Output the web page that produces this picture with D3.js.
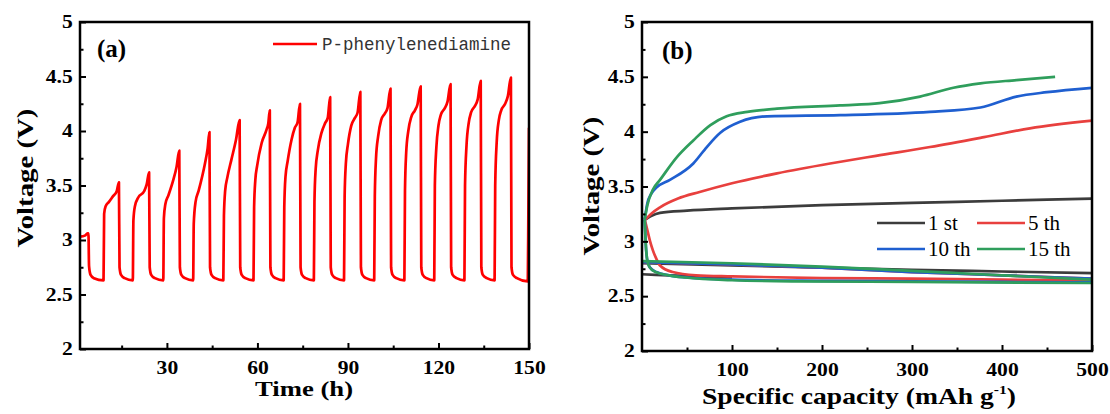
<!DOCTYPE html>
<html>
<head>
<meta charset="utf-8">
<script src="https://cdn.jsdelivr.net/npm/d3@7"></script>
<style>
  body { margin: 0; background: #fff; }
  svg text { font-family: "Liberation Serif", "Times New Roman", serif; }
</style>
</head>
<body>
<svg width="1110" height="414"></svg>
<script>
// ---- data: panel (a), voltage vs time, [time h, voltage V]
const cycleTrace = [
  [1.2, 3.03], [2.8, 3.04], [3.7, 3.06], [4.0, 3.06], [4.2, 2.76], [4.7, 2.68], [5.8, 2.65], [9.0, 2.63],
  [9.2, 3.24], [9.7, 3.31], [10.8, 3.35], [12.1, 3.40], [13.4, 3.45], [14.1, 3.53],
  [14.3, 2.75], [14.8, 2.68], [16.0, 2.65], [18.7, 2.63],
  [18.9, 3.18], [19.4, 3.31], [20.5, 3.39], [22.5, 3.45], [23.3, 3.51], [24.1, 3.62],
  [24.3, 2.75], [24.8, 2.68], [26.0, 2.65], [28.8, 2.63],
  [29.0, 3.20], [29.5, 3.33], [30.5, 3.41], [32.1, 3.55], [33.2, 3.67], [34.1, 3.82],
  [34.3, 2.75], [34.8, 2.68], [36.0, 2.65], [38.7, 2.63],
  [38.9, 3.15], [39.5, 3.35], [40.5, 3.45], [42.6, 3.70], [43.5, 3.84], [44.1, 3.99],
  [44.3, 2.75], [44.8, 2.68], [46.0, 2.65], [48.7, 2.63],
  [48.9, 3.22], [49.3, 3.45], [50.0, 3.57], [51.4, 3.74], [52.9, 3.92], [54.1, 4.10],
  [54.3, 2.75], [54.8, 2.68], [56.0, 2.65], [58.7, 2.63],
  [58.9, 3.30], [59.3, 3.55], [59.9, 3.68], [61.4, 3.89], [63.0, 4.01], [63.6, 4.07], [64.1, 4.19],
  [64.3, 2.75], [64.8, 2.68], [66.0, 2.65], [68.7, 2.63],
  [68.9, 3.30], [69.3, 3.58], [70.0, 3.72], [71.3, 3.92], [72.4, 4.03], [73.3, 4.08], [74.1, 4.25],
  [74.3, 2.75], [74.8, 2.68], [76.0, 2.65], [78.7, 2.63],
  [78.9, 3.35], [79.3, 3.65], [80.0, 3.82], [81.2, 3.98], [82.4, 4.07], [83.3, 4.12], [84.1, 4.31],
  [84.3, 2.75], [84.8, 2.68], [86.0, 2.65], [88.7, 2.63],
  [88.9, 3.40], [89.3, 3.70], [90.0, 3.88], [91.1, 4.05], [92.3, 4.12], [93.2, 4.17], [94.1, 4.36],
  [94.3, 2.75], [94.8, 2.68], [96.0, 2.65], [98.7, 2.63],
  [98.9, 3.40], [99.3, 3.75], [100.0, 3.95], [101.0, 4.10], [102.2, 4.16], [103.1, 4.21], [104.1, 4.39],
  [104.3, 2.75], [104.8, 2.68], [106.0, 2.65], [108.7, 2.63],
  [108.9, 3.45], [109.3, 3.80], [110.0, 4.00], [111.0, 4.13], [112.2, 4.19], [113.0, 4.24], [114.1, 4.41],
  [114.3, 2.75], [114.8, 2.68], [116.0, 2.65], [118.6, 2.63],
  [118.8, 3.50], [119.3, 3.85], [120.0, 4.05], [120.8, 4.15], [122.1, 4.21], [123.0, 4.27], [124.0, 4.43],
  [124.2, 2.75], [124.7, 2.68], [126.0, 2.65], [128.6, 2.63],
  [128.8, 3.50], [129.3, 3.87], [130.0, 4.07], [130.8, 4.17], [132.1, 4.23], [133.0, 4.29], [134.0, 4.46],
  [134.2, 2.75], [134.7, 2.68], [136.0, 2.65], [138.6, 2.63],
  [138.8, 3.50], [139.3, 3.90], [140.0, 4.10], [140.8, 4.19], [142.1, 4.25], [143.0, 4.32], [144.0, 4.49],
  [144.2, 2.75], [144.7, 2.68], [146.0, 2.65], [149.6, 2.62],
  [149.8, 3.30], [150.0, 4.03]
];
const seriesNameA = "P-phenylenediamine";
const timeTicks = [30, 60, 90, 120, 150];
const timeMinor = [15, 45, 75, 105, 135];
const voltTicks = [2, 2.5, 3, 3.5, 4, 4.5, 5];
const voltMinor = [2.25, 2.75, 3.25, 3.75, 4.25, 4.75];

// ---- data: panel (b), voltage vs specific capacity, [mAh/g, V]
const cycleNames = ["1 st", "5 th", "10 th", "15 th"];
const chargeCurves = [
  [[4, 3.2], [10, 3.23], [20, 3.26], [50, 3.28], [100, 3.30], [200, 3.33], [300, 3.35], [400, 3.37], [500, 3.39]],
  [[4, 3.2], [10, 3.25], [20, 3.31], [40, 3.39], [64, 3.45], [100, 3.53], [150, 3.62], [209, 3.71], [260, 3.78],
   [320, 3.86], [380, 3.95], [431, 4.03], [500, 4.10]],
  [[3, 3.2], [6, 3.35], [10, 3.43], [16, 3.49], [31, 3.56], [57, 3.71], [72, 3.86], [87, 3.99], [109, 4.09],
   [139, 4.14], [220, 4.15], [320, 4.18], [376, 4.22], [416, 4.32], [450, 4.36], [500, 4.40]],
  [[3, 3.2], [6, 3.33], [12, 3.47], [20, 3.56], [39, 3.77], [57, 3.92], [76, 4.06], [94, 4.14], [117, 4.18],
   [150, 4.21], [220, 4.24], [264, 4.26], [309, 4.32], [346, 4.40], [376, 4.44], [416, 4.47], [459, 4.50]]
];
// discharge branches leaving the 3.2 V start point
const dischargeCurves = [
  [[0, 2.70], [30, 2.69], [60, 2.68], [100, 2.67]],
  [[3, 3.2], [6, 3.1], [9, 3.0], [12, 2.92], [16, 2.84], [20, 2.78], [34, 2.72], [60, 2.69], [100, 2.68],
   [200, 2.665], [300, 2.66], [400, 2.65], [500, 2.645]],
  [[3, 3.2], [4, 3.0], [6, 2.82], [9, 2.76], [16, 2.72], [30, 2.69], [50, 2.67], [100, 2.65], [200, 2.64],
   [300, 2.635], [500, 2.625]],
  [[3, 3.2], [4, 3.0], [6, 2.82], [8, 2.77], [15, 2.72], [30, 2.69], [48, 2.67], [100, 2.645], [170, 2.635],
   [300, 2.63], [500, 2.62]]
];
// slowly falling branches that start near 2.8 V at zero capacity
const upperCurves = [
  [[0, 2.80], [100, 2.78], [200, 2.76], [300, 2.74], [400, 2.725], [500, 2.71]],
  [[0, 2.81], [100, 2.79], [200, 2.76], [300, 2.72], [400, 2.69], [500, 2.66]],
  [[0, 2.81], [100, 2.79], [200, 2.76], [300, 2.72], [400, 2.69], [500, 2.66]],
  [[0, 2.82], [100, 2.80], [200, 2.77], [300, 2.73], [400, 2.69], [500, 2.65]]
];
const capTicks = [100, 200, 300, 400, 500];
const capMinor = [50, 150, 250, 350, 450];

const cycleColors = ["#3c3c3c", "#e8403e", "#1f5fd0", "#2f9e5c"];

const svg = d3.select("svg");
const serif = "Liberation Serif, Times New Roman, serif";
const stretch = 1.2; // the source lettering is drawn wide

// frame + inward ticks, labels outside
function drawAxes(g, x, y, xt, xm, yt, ym, w, h) {
  const styleTicks = a => {
    a.select(".domain").remove();
    a.selectAll("line").attr("stroke", "#000").attr("stroke-width", 2);
    a.selectAll("text").attr("font-size", 18).attr("font-weight", "bold").attr("fill", "#000")
      .style("font-family", serif)
      .attr("transform", `scale(${stretch},1)`);
  };
  g.append("g")
    .attr("transform", `translate(0,${h})`)
    .call(d3.axisBottom(x).tickValues(xt).tickSize(-6).tickPadding(12).tickFormat(d3.format("d")))
    .call(styleTicks);
  g.append("g")
    .attr("transform", `translate(0,${h})`)
    .call(d3.axisBottom(x).tickValues(xm).tickSize(-3.5).tickFormat(""))
    .call(styleTicks);
  g.append("g")
    .call(d3.axisLeft(y).tickValues(yt).tickSize(-6).tickPadding(6).tickFormat(d => d))
    .call(styleTicks);
  g.append("g")
    .call(d3.axisLeft(y).tickValues(ym).tickSize(-3.5).tickFormat(""))
    .call(styleTicks);
  g.append("rect")
    .attr("width", w).attr("height", h)
    .attr("fill", "none").attr("stroke", "#000").attr("stroke-width", 2.5);
}

// ---------------- Panel (a)
const wA = 449, hA = 327;
const gA = svg.append("g").attr("transform", "translate(80,22)");
const xA = d3.scaleLinear().domain([1.2, 150]).range([0, wA]);
const yA = d3.scaleLinear().domain([2, 5]).range([hA, 0]);

gA.append("clipPath").attr("id", "clipA")
  .append("rect").attr("width", wA).attr("height", hA);

gA.append("path")
  .datum(cycleTrace)
  .attr("clip-path", "url(#clipA)")
  .attr("fill", "none")
  .attr("stroke", "#ff0000")
  .attr("stroke-width", 2.7)
  .attr("stroke-linejoin", "round")
  .attr("d", d3.line().x(d => xA(d[0])).y(d => yA(d[1])).curve(d3.curveMonotoneX));

drawAxes(gA, xA, yA, timeTicks, timeMinor, voltTicks, voltMinor, wA, hA);

gA.append("text").attr("x", 17).attr("y", 35)
  .attr("font-size", 25).attr("font-weight", "bold").text("(a)");

// legend (a)
gA.append("line").attr("x1", 193).attr("x2", 237).attr("y1", 22).attr("y2", 22)
  .attr("stroke", "#ff0000").attr("stroke-width", 2.7);
gA.append("text").attr("x", 242).attr("y", 28)
  .style("font-family", "Liberation Mono, monospace")
  .attr("font-size", 17.5).attr("fill", "#333").text(seriesNameA);

svg.append("text")
  .attr("transform", `translate(33,178) rotate(-90) scale(${stretch},1)`)
  .attr("text-anchor", "middle").attr("font-size", 24).attr("font-weight", "bold")
  .text("Voltage (V)");
svg.append("text")
  .attr("transform", `translate(304,396) scale(1.27,1)`)
  .attr("text-anchor", "middle").attr("font-size", 21).attr("font-weight", "bold")
  .text("Time (h)");

// ---------------- Panel (b)
const wB = 450, hB = 329;
const gB = svg.append("g").attr("transform", "translate(642,22)");
const xB = d3.scaleLinear().domain([0, 500]).range([0, wB]);
const yB = d3.scaleLinear().domain([2, 5]).range([hB, 0]);

gB.append("clipPath").attr("id", "clipB")
  .append("rect").attr("width", wB).attr("height", hB);

const lineB = d3.line().x(d => xB(d[0])).y(d => yB(d[1])).curve(d3.curveMonotoneX);

cycleNames.forEach((name, i) => {
  [upperCurves[i], dischargeCurves[i], chargeCurves[i]].forEach(c => {
    gB.append("path")
      .datum(c)
      .attr("clip-path", "url(#clipB)")
      .attr("fill", "none")
      .attr("stroke", cycleColors[i])
      .attr("stroke-width", 2.7)
      .attr("d", lineB);
  });
});

drawAxes(gB, xB, yB, capTicks, capMinor, voltTicks, voltMinor, wB, hB);

gB.append("text").attr("x", 20).attr("y", 37)
  .attr("font-size", 25).attr("font-weight", "bold").text("(b)");

// legend (b), two columns
const legB = gB.append("g");
cycleNames.forEach((name, i) => {
  const col = i % 2, row = Math.floor(i / 2);
  const lx = 235 + col * 100, ly = 201 + row * 26;
  legB.append("line").attr("x1", lx).attr("x2", lx + 48).attr("y1", ly).attr("y2", ly)
    .attr("stroke", cycleColors[i]).attr("stroke-width", 2.7);
  legB.append("text").attr("x", lx + 51).attr("y", ly + 7)
    .attr("font-size", 21).text(name);
});

svg.append("text")
  .attr("transform", `translate(599,186) rotate(-90) scale(${stretch},1)`)
  .attr("text-anchor", "middle").attr("font-size", 24).attr("font-weight", "bold")
  .text("Voltage (V)");
const capTitle = svg.append("text")
  .attr("transform", `translate(859,404) scale(${stretch},1)`)
  .attr("text-anchor", "middle").attr("font-size", 23).attr("font-weight", "bold");
capTitle.append("tspan").text("Specific capacity (mAh g");
capTitle.append("tspan").attr("font-size", 13).attr("dy", -10).text("-1");
capTitle.append("tspan").attr("dy", 10).text(")");
</script>
</body>
</html>
